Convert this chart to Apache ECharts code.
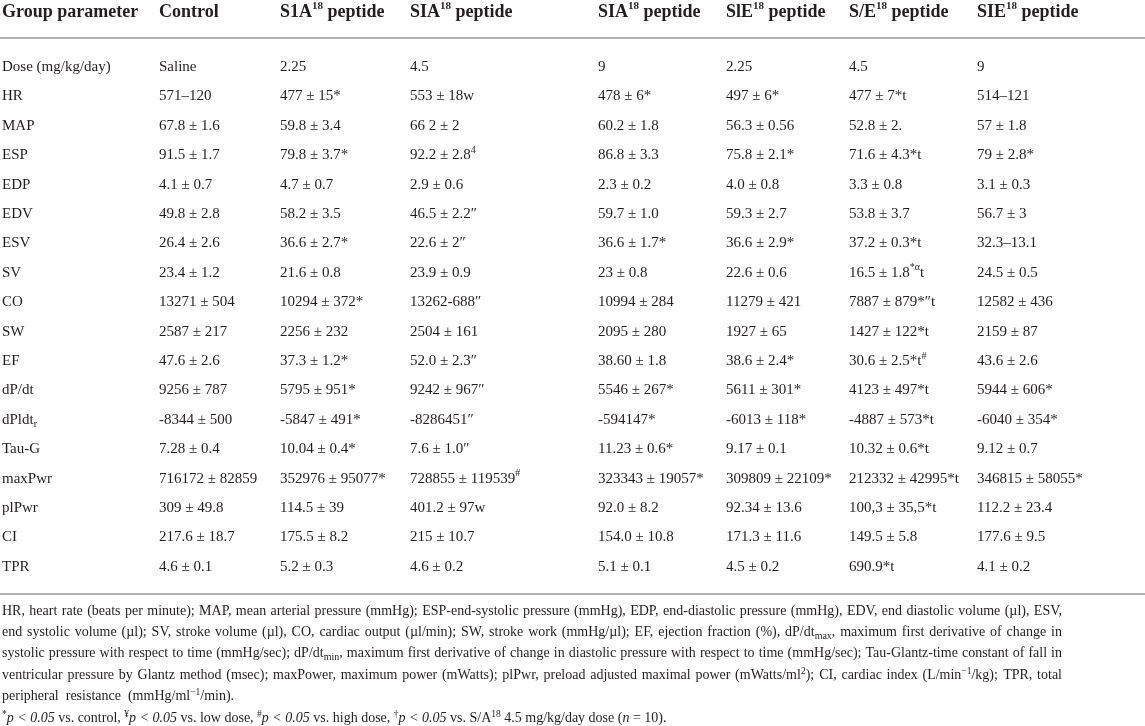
<!DOCTYPE html>
<html>
<head>
<meta charset="utf-8">
<script src="https://cdn.jsdelivr.net/npm/echarts@6/dist/echarts.min.js"></script>
<style>
  html, body { margin: 0; padding: 0; background: #fff; }
  #table { width: 1145px; height: 726px; }
</style>
</head>
<body>
<div id="table"></div>
<script>
// column headers and row names
var headers = ['Group parameter', 'Control', 'S1A{sup|18} peptide', 'SIA{sup|18} peptide', 'SIA{sup|18} peptide',
  'SlE{sup|18} peptide', 'S/E{sup|18} peptide', 'SIE{sup|18} peptide']
var params = ['Dose (mg/kg/day)', 'HR', 'MAP', 'ESP', 'EDP', 'EDV', 'ESV', 'SV', 'CO', 'SW', 'EF', 'dP/dt',
  'dPldt{sub|r}', 'Tau-G', 'maxPwr', 'plPwr', 'CI', 'TPR']

// one array per group (column), same order as params
var control = ['Saline', '571–120', '67.8 ± 1.6', '91.5 ± 1.7', '4.1 ± 0.7', '49.8 ± 2.8', '26.4 ± 2.6',
  '23.4 ± 1.2', '13271 ± 504', '2587 ± 217', '47.6 ± 2.6', '9256 ± 787', '-8344 ± 500', '7.28 ± 0.4',
  '716172 ± 82859', '309 ± 49.8', '217.6 ± 18.7', '4.6 ± 0.1']
var s1a_225 = ['2.25', '477 ± 15*', '59.8 ± 3.4', '79.8 ± 3.7*', '4.7 ± 0.7', '58.2 ± 3.5', '36.6 ± 2.7*',
  '21.6 ± 0.8', '10294 ± 372*', '2256 ± 232', '37.3 ± 1.2*', '5795 ± 951*', '-5847 ± 491*', '10.04 ± 0.4*',
  '352976 ± 95077*', '114.5 ± 39', '175.5 ± 8.2', '5.2 ± 0.3']
var sia_45 = ['4.5', '553 ± 18w', '66 2 ± 2', '92.2 ± 2.8{sup|4}', '2.9 ± 0.6', '46.5 ± 2.2″', '22.6 ± 2″',
  '23.9 ± 0.9', '13262-688″', '2504 ± 161', '52.0 ± 2.3″', '9242 ± 967″', '-8286451″', '7.6 ± 1.0″',
  '728855 ± 119539{sup|#}', '401.2 ± 97w', '215 ± 10.7', '4.6 ± 0.2']
var sia_9 = ['9', '478 ± 6*', '60.2 ± 1.8', '86.8 ± 3.3', '2.3 ± 0.2', '59.7 ± 1.0', '36.6 ± 1.7*',
  '23 ± 0.8', '10994 ± 284', '2095 ± 280', '38.60 ± 1.8', '5546 ± 267*', '-594147*', '11.23 ± 0.6*',
  '323343 ± 19057*', '92.0 ± 8.2', '154.0 ± 10.8', '5.1 ± 0.1']
var sle_225 = ['2.25', '497 ± 6*', '56.3 ± 0.56', '75.8 ± 2.1*', '4.0 ± 0.8', '59.3 ± 2.7', '36.6 ± 2.9*',
  '22.6 ± 0.6', '11279 ± 421', '1927 ± 65', '38.6 ± 2.4*', '5611 ± 301*', '-6013 ± 118*', '9.17 ± 0.1',
  '309809 ± 22109*', '92.34 ± 13.6', '171.3 ± 11.6', '4.5 ± 0.2']
var se_45 = ['4.5', '477 ± 7*t', '52.8 ± 2.', '71.6 ± 4.3*t', '3.3 ± 0.8', '53.8 ± 3.7', '37.2 ± 0.3*t',
  '16.5 ± 1.8{sup|*α}t', '7887 ± 879*″t', '1427 ± 122*t', '30.6 ± 2.5*t{sup|#}', '4123 ± 497*t',
  '-4887 ± 573*t', '10.32 ± 0.6*t', '212332 ± 42995*t', '100,3 ± 35,5*t', '149.5 ± 5.8', '690.9*t']
var sie_9 = ['9', '514–121', '57 ± 1.8', '79 ± 2.8*', '3.1 ± 0.3', '56.7 ± 3', '32.3–13.1', '24.5 ± 0.5',
  '12582 ± 436', '2159 ± 87', '43.6 ± 2.6', '5944 ± 606*', '-6040 ± 354*', '9.12 ± 0.7', '346815 ± 58055*',
  '112.2 ± 23.4', '177.6 ± 9.5', '4.1 ± 0.2']

// footnote lines, the first four are justified
var notes = [
  'HR, heart rate (beats per minute); MAP, mean arterial pressure (mmHg); ESP-end-systolic pressure (mmHg), EDP, end-diastolic pressure (mmHg), EDV, end diastolic volume (µl), ESV,',
  'end systolic volume (µl); SV, stroke volume (µl), CO, cardiac output (µl/min); SW, stroke work (mmHg/µl); EF, ejection fraction (%), dP/dt{sub|max}, maximum first derivative of change in',
  'systolic pressure with respect to time (mmHg/sec); dP/dt{sub|min}, maximum first derivative of change in diastolic pressure with respect to time (mmHg/sec); Tau-Glantz-time constant of fall in',
  'ventricular pressure by Glantz method (msec); maxPower, maximum power (mWatts); plPwr, preload adjusted maximal power (mWatts/ml{sup|2}); CI, cardiac index (L/min{sup|−1}/kg); TPR, total',
  'peripheral  resistance  (mmHg/ml{sup|−1}/min).',
  '{sup|*}{it|p < 0.05} vs. control, {sup|¥}{it|p < 0.05} vs. low dose, {sup|#}{it|p < 0.05} vs. high dose, {sup|†}{it|p < 0.05} vs. S/A{sup|18} 4.5 mg/kg/day dose ({it|n} = 10).'
]

// layout
var colX = [2, 159, 280, 410, 598, 726, 849, 977]
var FONT = '"Liberation Serif", "DejaVu Serif", serif'
var INK = '#231f20'
var RULE = '#9a9a9a'

var columns = [params, control, s1a_225, sia_45, sia_9, sle_225, se_45, sie_9]
var cells = []
columns.forEach(function (col, c) {
  col.forEach(function (txt, r) {
    cells.push({ value: [c, r], txt: txt })
  })
})

var bodyRich = {
  sup: { fontSize: 10, fontFamily: FONT, fill: INK, verticalAlign: 'top' },
  sub: { fontSize: 10, fontFamily: FONT, fill: INK, verticalAlign: 'bottom' }
}

// measure a word that may hold rich tokens, used to justify the footnote
var ctx = document.createElement('canvas').getContext('2d')
function wordWidth(word, size) {
  var re = /\{(\w+)\|([^}]*)\}/g
  var w = 0, last = 0, m
  function plain(s) {
    ctx.font = size + 'px ' + FONT
    w += ctx.measureText(s).width
  }
  while ((m = re.exec(word))) {
    if (m.index > last) plain(word.slice(last, m.index))
    ctx.font = (m[1] === 'it' ? 'italic ' + size : 10) + 'px ' + FONT
    w += ctx.measureText(m[2]).width
    last = re.lastIndex
  }
  if (last < word.length) plain(word.slice(last))
  return w
}

var noteRich = {
  sup: { fontSize: 9.5, fontFamily: FONT, fill: INK, verticalAlign: 'top' },
  sub: { fontSize: 10, fontFamily: FONT, fill: INK, verticalAlign: 'bottom' },
  it: { fontSize: 14, fontFamily: FONT, fontStyle: 'italic', fill: INK }
}

function noteText(text, x, y) {
  return {
    type: 'text', x: x, y: y, silent: true,
    style: { text: text, fontSize: 14, fontFamily: FONT, fill: INK, lineHeight: 18,
      align: 'left', verticalAlign: 'middle', rich: noteRich }
  }
}

var graphics = []
// header row
headers.forEach(function (h, c) {
  graphics.push({
    type: 'text', x: colX[c], y: 12, silent: true,
    style: { text: h, fontSize: 18, fontWeight: 'bold', fontFamily: FONT, fill: INK, lineHeight: 22,
      align: 'left', verticalAlign: 'middle',
      rich: { sup: { fontSize: 11, fontWeight: 'bold', fontFamily: FONT, fill: INK, verticalAlign: 'top' } } }
  })
})
// rules
graphics.push({ type: 'line', silent: true, shape: { x1: 0, y1: 38, x2: 1145, y2: 38 }, style: { stroke: RULE, lineWidth: 1.5 } })
graphics.push({ type: 'line', silent: true, shape: { x1: 0, y1: 594, x2: 1145, y2: 594 }, style: { stroke: RULE, lineWidth: 1.5 } })

// footnotes
var noteRight = 1062
notes.forEach(function (line, i) {
  var y = 611 + i * 21.4
  if (i < 4) {
    var words = line.split(' ')
    var widths = words.map(function (w) { return wordWidth(w, 14) })
    var total = widths.reduce(function (a, b) { return a + b }, 0)
    var gap = (noteRight - colX[0] - total) / (words.length - 1)
    var x = colX[0]
    words.forEach(function (w, k) {
      graphics.push(noteText(w, x, y))
      x += widths[k] + gap
    })
  } else {
    graphics.push(noteText(line, colX[0], y))
  }
})

var chart = echarts.init(document.getElementById('table'))
var option = {
  animation: false,
  grid: { left: 0, right: 0, top: 52.3, bottom: 144.5 },
  xAxis: { type: 'value', min: 0, max: 1145, show: false },
  yAxis: { type: 'category', data: params, inverse: true, show: false },
  series: [
    {
      type: 'custom',
      clip: false,
      silent: true,
      data: cells,
      renderItem: function (p, api) {
        var c = api.value(0)
        var r = api.value(1)
        var pt = api.coord([colX[c], r])
        return {
          type: 'text',
          x: pt[0],
          y: pt[1],
          style: {
            text: cells[p.dataIndex].txt,
            fontSize: 15,
            fontFamily: FONT,
            fill: INK,
            lineHeight: 20,
            align: 'left',
            verticalAlign: 'middle',
            rich: bodyRich
          }
        }
      }
    }
  ],
  graphic: graphics
}
chart.setOption(option)
</script>
</body>
</html>
